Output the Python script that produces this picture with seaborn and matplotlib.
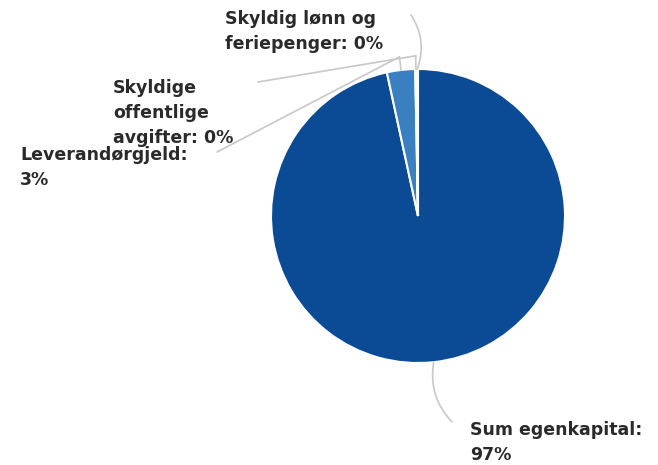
import numpy as np
import matplotlib
matplotlib.use("Agg")
import matplotlib.pyplot as plt
import seaborn as sns

# data
labels = ["Sum egenkapital", "Leverandørgjeld", "Skyldige offentlige avgifter", "Skyldig lønn og feriepenger"]
values = [96.6, 3.1, 0.15, 0.15]
shown_pct = [97, 3, 0, 0]
label_text = ["Sum egenkapital:\n97%", "Leverandørgjeld:\n3%",
              "Skyldige\noffentlige\navgifter: 0%", "Skyldig lønn og\nferiepenger: 0%"]
colors = ["#0b4a95", "#3a80c1", "#7fb2e0", "#9cc3e8"]

sns.set_theme(style="white")
plt.rcParams["font.family"] = ["DejaVu Sans"]

W, H = 658, 465
fig = plt.figure(figsize=(W / 100, H / 100), dpi=100)

# pie centre (418, 216) radius 147 in image pixels
cx, cy, r = 418, 216, 147
ax = fig.add_axes([(cx - r) / W, (H - cy - r) / H, 2 * r / W, 2 * r / H])
wedges, _ = ax.pie(values, colors=colors, startangle=90, counterclock=False,
                   wedgeprops=dict(edgecolor="white", linewidth=1.5))
ax.set_xlim(-1, 1)
ax.set_ylim(-1, 1)
ax.set_aspect("equal")
ax.axis("off")

# label positions (top-left, image pixels) and leader line end points
text_pos = [(470, 421), (20, 146), (113, 79), (225, 10)]
line_end = [(452, 422), (217, 152), (258, 82), (411, 15)]
elbow_r = [1.0, 1.09, 1.09, 1.0]
rads = [-0.25, 0.0, 0.0, -0.25]

line_color = "#c8c8c8"
for w, txt, tp, le, er, rd in zip(wedges, label_text, text_pos, line_end, elbow_r, rads):
    ang = np.deg2rad((w.theta1 + w.theta2) / 2)
    x0, y0 = np.cos(ang), np.sin(ang)
    if er > 1.0:
        ax.plot([x0, er * x0], [y0, er * y0], color=line_color, lw=1.2, clip_on=False)
    ax.annotate("", xy=(er * x0, er * y0), xycoords="data",
                xytext=(le[0], H - le[1]), textcoords="figure pixels",
                annotation_clip=False,
                arrowprops=dict(arrowstyle="-", color=line_color, lw=1.2,
                                shrinkA=0, shrinkB=0,
                                connectionstyle=f"arc3,rad={rd}"))
    fig.text(tp[0] / W, 1 - tp[1] / H, txt, ha="left", va="top",
             fontsize=12.5, fontweight="bold", color="#2a2a2a", linespacing=1.5)

fig.savefig("out.png", dpi=100, facecolor="white")
